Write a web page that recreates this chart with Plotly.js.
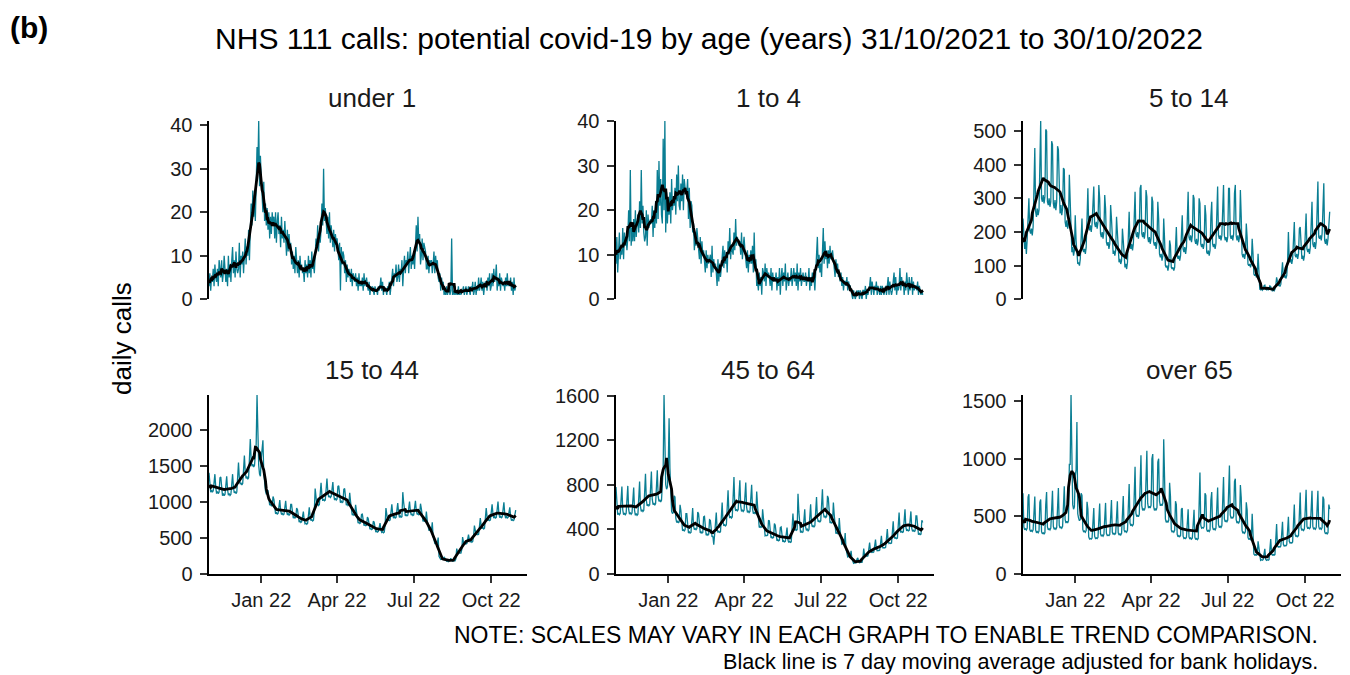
<!DOCTYPE html>
<html><head><meta charset="utf-8">
<script src="https://cdn.plot.ly/plotly-3.0.1.min.js"></script>
<style>html,body{margin:0;padding:0;background:#fff}#chart{width:1350px;height:675px}</style>
</head><body><div id="chart"></div>
<script>
const startDate = '2021-10-31';
const chartTitle = 'NHS 111 calls: potential covid-19 by age (years) 31/10/2021 to 30/10/2022';
const yTitle = 'daily calls';
const panelLabel = '(b)';
const noteLines = ['NOTE: SCALES MAY VARY IN EACH GRAPH TO ENABLE TREND COMPARISON.',
                   'Black line is 7 day moving average adjusted for bank holidays.'];
const panelTitles = ['under 1', '1 to 4', '5 to 14', '15 to 44', '45 to 64', 'over 65'];
const xTickVals = ['2022-01-01', '2022-04-01', '2022-07-01', '2022-10-01'];
const xTickText = ['Jan 22', 'Apr 22', 'Jul 22', 'Oct 22'];
const yTickVals = [[0,10,20,30,40],[0,10,20,30,40],[0,100,200,300,400,500],
                   [0,500,1000,1500,2000],[0,400,800,1200,1600],[0,500,1000,1500]];

// daily calls, one row per week (Sun..Sat), from 31/10/2021
const under1 = [
3,6,2,5,4,7,3, 8,5,4,7,3,9,6, 5,9,4,6,10,7,4, 7,3,10,5,8,4,9,
12,6,9,5,11,7,6, 7,13,5,10,8,11,6, 9,14,8,12,10,16,9, 15,22,17,25,19,24,18,
27,35,30,41,26,33,28, 24,20,27,18,22,17,21, 16,20,14,19,15,20,17, 19,14,20,13,18,20,15,
17,12,19,14,16,13,18, 14,10,16,11,15,12,13, 8,11,7,10,6,12,9, 6,9,5,10,7,8,6,
7,4,9,6,8,5,10, 6,9,5,11,7,8,6, 10,14,12,17,11,15,13, 16,22,17,30,18,21,17,
15,19,14,20,13,17,14, 12,16,11,15,13,14,12, 9,13,2,12,8,11,10, 6,9,4,8,5,7,6,
4,7,3,6,5,4,6, 3,5,2,6,3,4,3, 5,2,6,3,4,5,3, 2,4,1,3,2,3,2,
1,3,2,2,1,3,2, 3,5,2,4,1,3,2, 2,1,3,2,4,1,3, 4,7,3,6,5,8,4,
5,8,4,7,6,9,3, 7,10,6,9,8,11,6, 9,12,7,10,8,11,7, 12,17,11,19,13,15,8,
10,14,9,13,12,11,7, 7,10,6,9,8,9,6, 8,11,6,10,7,9,5, 4,6,2,5,3,4,1,
2,1,3,1,2,3,1, 2,14,1,2,1,3,1, 2,1,3,1,2,1,2, 2,3,1,2,3,1,2,
3,2,1,3,2,4,1, 2,4,1,3,2,5,2, 3,5,2,4,1,3,4, 4,2,5,3,6,2,3,
6,3,7,4,5,8,2, 5,3,6,2,5,4,3, 4,2,5,3,6,3,4, 3,5,2,4,1,5,2,
3];

const age1to4 = [
8,14,6,12,15,9,11, 10,16,9,15,12,14,11, 14,20,13,29,12,16,13, 18,13,20,14,17,19,15,
22,16,29,17,21,15,13, 14,20,12,19,16,17,18, 17,21,14,20,16,22,17, 29,18,31,21,27,19,17,
36,20,40,15,24,17,22, 19,24,17,27,20,22,21, 25,19,28,22,30,21,20, 26,22,28,20,27,25,24,
24,27,18,25,16,22,21, 15,17,11,14,12,16,13, 12,9,14,8,13,10,11, 9,6,11,7,10,8,9,
10,5,12,6,9,7,8, 6,3,9,4,8,5,7, 9,12,7,11,8,10,6, 13,10,16,9,12,11,10,
15,11,18,12,14,13,12, 13,10,15,9,12,14,11, 9,7,11,6,10,8,11, 8,12,6,15,7,9,3,
4,2,6,3,5,1,7, 6,4,8,3,7,5,6, 5,3,7,2,6,4,5, 4,6,2,5,3,7,1,
5,7,3,6,4,8,2, 4,6,3,5,4,7,3, 5,7,4,6,3,8,2, 6,4,7,3,5,6,4,
4,6,3,5,4,7,2, 5,3,6,4,5,2,6, 9,14,7,10,6,8,5, 10,16,8,13,9,11,7,
11,8,12,9,10,11,9, 7,5,9,6,8,5,6, 4,6,3,5,2,4,4, 3,5,2,4,3,3,2,
1,0,2,1,0,1,2, 1,2,0,2,1,0,2, 2,1,3,0,2,1,2, 3,5,1,4,2,1,3,
2,4,1,3,2,1,3, 1,3,2,1,2,3,1, 3,5,1,4,2,1,2, 4,6,2,5,1,3,2,
3,7,2,5,3,4,1, 4,2,6,3,1,5,2, 3,5,1,4,2,3,3, 2,4,1,3,2,1,2,
1];

const age5to14 = [
240,170,150,175,135,180,285, 300,205,195,210,190,215,330, 450,260,245,270,250,265,430, 530,300,290,310,285,305,505,
500,290,280,300,275,290,470, 460,285,270,295,265,290,455, 445,275,255,280,250,270,390, 385,230,215,235,210,225,370,
290,150,140,155,130,145,250, 175,115,105,110,100,120,180, 240,150,140,150,135,155,255, 330,215,205,220,200,225,320,
335,225,215,230,210,230,340, 300,195,185,200,180,200,310, 270,170,160,170,150,165,280, 240,150,135,145,130,145,245,
200,120,110,120,105,115,210, 175,105,95,105,90,110,195, 260,160,150,165,145,165,285, 320,195,185,200,180,200,330,
340,195,185,200,180,200,325, 305,185,170,185,165,180,305, 290,170,160,170,150,170,290, 240,135,125,135,115,130,240,
180,100,95,100,85,100,175, 160,95,90,95,85,95,165, 215,130,120,130,115,130,215, 250,150,140,155,135,155,260,
320,185,175,190,170,190,310, 300,175,165,180,160,175,300, 285,165,155,165,150,165,280, 250,140,135,145,130,145,245,
290,165,155,165,150,165,275, 335,190,180,190,175,190,315, 340,190,175,185,170,185,330, 330,190,180,190,175,195,315,
340,190,175,190,170,185,325, 245,135,125,135,120,135,225, 185,105,100,105,95,105,180, 135,75,70,75,65,75,135,
45,30,28,32,27,30,40, 42,30,28,32,27,33,40, 38,26,24,28,25,30,40, 65,45,40,45,38,45,72,
110,70,65,72,62,70,110, 200,115,110,120,105,120,175, 230,130,125,135,120,135,210, 215,130,120,130,115,130,210,
255,150,140,150,135,155,240, 290,165,155,170,150,170,270, 350,185,180,190,175,195,300, 345,175,165,180,160,180,235,
260];

const age15to44 = [
1400,1220,1130,1160,1130,1150,1330, 1380,1200,1110,1140,1110,1130,1330, 1340,1160,1080,1110,1080,1100,1290, 1350,1170,1090,1110,1085,1100,1290,
1380,1200,1120,1140,1110,1130,1320, 1540,1330,1240,1260,1230,1250,1470, 1640,1420,1320,1350,1310,1330,1570, 1870,1600,1490,1520,1480,1500,1750,
1800,2480,1750,1500,1380,1350,1600, 1700,1850,1400,1250,1150,1100,1150, 1150,1020,950,960,940,950,1070, 1030,890,830,845,825,835,975,
1020,880,820,835,815,825,965, 1010,875,815,830,810,820,960, 960,830,770,790,770,780,910, 890,770,715,730,710,720,840,
860,740,690,700,685,695,810, 920,790,735,750,730,740,870, 1180,1020,950,970,945,960,1110, 1260,1090,1010,1035,1010,1020,1200,
1320,1140,1060,1080,1055,1070,1250, 1270,1100,1020,1045,1020,1035,1210, 1220,1060,985,1005,985,995,1170, 1180,1020,950,970,945,960,1120,
1000,870,810,825,810,820,955, 865,750,700,710,695,705,820, 825,715,665,680,665,670,785, 760,660,615,625,610,620,725,
715,620,575,590,575,585,680, 700,610,570,580,565,575,670, 910,790,735,750,735,745,870, 960,830,770,790,770,780,910,
980,850,780,800,780,790,1130, 990,860,800,815,800,810,950, 1000,870,810,825,805,815,960, 1010,880,820,835,815,825,970,
900,780,725,740,725,735,860, 740,640,595,610,595,600,710, 520,450,420,430,415,425,500, 240,210,195,200,195,200,230,
205,180,170,175,165,170,200, 210,185,170,175,170,175,205, 345,300,280,285,280,285,330, 505,440,410,420,410,415,485,
540,470,440,450,435,445,515, 665,580,540,550,540,545,640, 770,670,625,640,620,630,740, 910,790,735,750,735,745,870,
960,830,770,790,770,780,910, 1000,840,775,795,775,785,880, 990,830,770,790,770,780,900, 920,790,735,750,735,745,860,
880];

const age45to64 = [
780,570,530,545,530,540,740, 785,575,530,545,530,540,735, 790,580,535,550,535,545,750, 775,570,525,540,525,535,730,
830,605,560,575,560,570,780, 900,660,610,625,610,620,860, 920,670,620,635,615,630,850, 930,700,650,665,645,660,900,
950,1610,1000,800,760,780,950, 1400,950,620,560,540,550,700, 690,500,460,470,460,465,620, 570,420,385,395,385,395,540,
540,395,365,375,365,370,510, 590,430,395,405,395,405,555, 540,395,365,375,365,370,510, 515,375,345,355,345,355,485,
480,360,330,340,260,345,470, 550,400,370,380,370,375,520, 640,465,430,440,430,440,610, 750,545,500,515,500,510,700,
870,610,565,580,565,575,800, 840,610,560,575,560,570,780, 820,600,550,565,550,560,760, 800,585,540,555,540,550,740,
610,445,415,425,415,420,580, 500,365,340,345,340,345,480, 475,345,320,330,320,325,450, 435,320,295,305,295,300,415,
420,310,285,295,285,290,400, 415,305,280,290,280,285,395, 540,420,390,400,390,395,720, 560,400,370,380,370,375,520,
580,420,390,400,385,395,540, 625,455,420,430,420,430,590, 690,505,465,475,465,475,650, 760,550,505,520,505,515,700,
680,495,455,465,455,465,640, 530,390,360,370,360,365,500, 390,285,265,270,265,270,365, 220,160,150,155,150,155,205,
135,100,92,95,92,95,130, 140,105,97,100,97,100,135, 225,165,155,160,155,160,210, 280,205,190,195,190,195,260,
305,225,205,210,205,210,285, 340,245,230,235,230,235,315, 400,290,270,275,270,275,370, 470,340,315,325,315,320,440,
550,400,370,380,370,375,510, 580,420,385,395,385,390,530, 560,410,380,390,380,385,520, 520,380,350,360,350,355,480,
460];

const over65 = [
700,405,380,390,380,395,665, 690,385,365,375,365,380,630, 670,380,355,365,355,370,620, 645,365,345,355,345,355,600,
710,405,380,390,380,395,665, 720,410,385,395,385,400,670, 745,420,395,405,395,410,695, 760,470,440,455,440,460,950,
950,1555,1050,600,560,580,850, 900,1320,520,480,460,470,700, 680,385,360,370,360,375,625, 560,320,300,305,300,310,525,
570,325,305,310,305,315,530, 610,345,325,335,325,340,570, 615,350,330,335,330,340,575, 640,360,340,350,340,350,595,
630,355,335,345,335,350,590, 675,380,360,370,360,375,630, 780,440,415,425,415,430,730, 930,525,495,510,495,515,870,
1030,590,550,565,550,575,970, 1070,610,570,585,570,595,1000, 1040,585,550,565,550,575,970, 1000,630,590,605,590,615,1170,
840,475,445,460,445,465,790, 675,380,360,370,360,375,630, 600,340,320,330,320,330,560, 570,325,305,310,305,315,530,
560,320,300,310,300,310,525, 555,315,295,305,295,305,520, 880,420,395,400,395,410,700, 680,385,365,375,365,380,640,
710,405,380,390,380,395,665, 750,425,400,410,400,415,700, 840,475,450,460,450,465,780, 940,510,480,490,480,500,800,
825,470,440,450,440,455,770, 660,375,350,360,350,365,620, 555,315,295,305,295,305,520, 300,170,160,165,160,165,280,
215,125,115,120,115,120,205, 215,125,115,120,115,120,205, 300,170,160,165,160,165,280, 430,240,230,235,230,240,400,
450,255,240,245,240,250,420, 495,280,265,270,265,275,460, 600,340,320,330,320,330,560, 705,400,375,385,375,390,660,
730,410,390,400,390,400,680, 720,410,385,395,385,400,670, 720,410,385,395,385,400,670, 645,365,345,355,345,355,600,
560];

const series = [under1, age1to4, age5to14, age15to44, age45to64, over65];

function dates(n) {
  const out = [];
  const d0 = new Date(startDate + 'T00:00:00Z');
  for (let i = 0; i < n; i++) {
    const d = new Date(d0.getTime() + i * 86400000);
    out.push(d.toISOString().slice(0, 10));
  }
  return out;
}
function movingAverage(a) {
  return a.map((_, i) => {
    let s = 0, n = 0;
    for (let k = i - 3; k <= i + 3; k++) if (k >= 0 && k < a.length) { s += a[k]; n++; }
    return s / n;
  });
}

const W = 1350, H = 675;
const FONT = 'Liberation Sans, Arial, sans-serif';
const colX = [[209, 527], [616, 934], [1023, 1341]];
const titleX = [372, 768, 1189];
const rowY = [[121, 299.3], [395, 573.5]];
const px = v => v / W, py = v => (H - v) / H;

const traces = [];
const layout = {
  width: W, height: H, margin: {l: 0, r: 0, t: 0, b: 0},
  paper_bgcolor: '#fff', plot_bgcolor: '#fff', showlegend: false,
  font: {family: FONT, color: '#1a1a1a'},
  title: {text: chartTitle, x: 709 / W, xanchor: 'center', y: py(38), yanchor: 'middle',
          font: {family: FONT, size: 30, color: '#000'}},
  annotations: []
};

series.forEach((vals, i) => {
  const n = i + 1, sfx = n === 1 ? '' : String(n);
  const col = i % 3, row = Math.floor(i / 3);
  const x = dates(vals.length);
  traces.push({x: x, y: vals, type: 'scatter', mode: 'lines', xaxis: 'x' + sfx, yaxis: 'y' + sfx,
               line: {color: '#0A7E93', width: 1.3}, hoverinfo: 'skip'});
  traces.push({x: x, y: movingAverage(vals), type: 'scatter', mode: 'lines', xaxis: 'x' + sfx, yaxis: 'y' + sfx,
               line: {color: '#000', width: 2.8}, hoverinfo: 'skip'});
  const bottom = row === 1;
  layout['xaxis' + sfx] = {
    domain: [px(colX[col][0]), px(colX[col][1])], anchor: 'y' + sfx, type: 'date',
    range: ['2021-10-31', '2022-11-12 10:00'],
    showgrid: false, zeroline: false,
    showline: bottom, linecolor: '#000', linewidth: 2.5,
    ticks: bottom ? 'outside' : '', ticklen: 7, tickwidth: 2, tickcolor: '#333',
    showticklabels: bottom, tickvals: xTickVals, ticktext: xTickText,
    tickfont: {family: FONT, size: 20, color: '#1a1a1a'}
  };
  const ymax = Math.max.apply(null, vals);
  layout['yaxis' + sfx] = {
    domain: [py(rowY[row][1]), py(rowY[row][0])], anchor: 'x' + sfx,
    range: [0, ymax], showgrid: false, zeroline: false,
    showline: true, linecolor: '#000', linewidth: 2.5,
    ticks: 'outside', ticklen: 7, tickwidth: 2, tickcolor: '#333',
    tickvals: yTickVals[i], ticklabelstandoff: 3,
    tickfont: {family: FONT, size: 20, color: '#1a1a1a'}
  };
  layout.annotations.push({text: panelTitles[i], xref: 'paper', yref: 'paper',
    x: px(titleX[col]), y: py(row === 0 ? 98 : 370),
    xanchor: 'center', yanchor: 'middle', showarrow: false,
    font: {family: FONT, size: 26, color: '#1a1a1a'}});
});

layout.annotations.push({text: yTitle, xref: 'paper', yref: 'paper', x: px(122), y: py(338),
  xanchor: 'center', yanchor: 'middle', textangle: -90, showarrow: false,
  font: {family: FONT, size: 26, color: '#000'}});
layout.annotations.push({text: '<b>' + panelLabel + '</b>', xref: 'paper', yref: 'paper', x: px(8), y: py(28),
  xanchor: 'left', yanchor: 'middle', showarrow: false, font: {family: FONT, size: 30, color: '#000'}});
layout.annotations.push({text: noteLines[0], xref: 'paper', yref: 'paper', x: px(1320), y: py(635),
  xanchor: 'right', yanchor: 'middle', showarrow: false, font: {family: FONT, size: 23, color: '#000'}});
layout.annotations.push({text: noteLines[1], xref: 'paper', yref: 'paper', x: px(1320), y: py(661),
  xanchor: 'right', yanchor: 'middle', showarrow: false, font: {family: FONT, size: 21.6, color: '#000'}});

Plotly.newPlot('chart', traces, layout, {displayModeBar: false, staticPlot: true});
</script></body></html>
